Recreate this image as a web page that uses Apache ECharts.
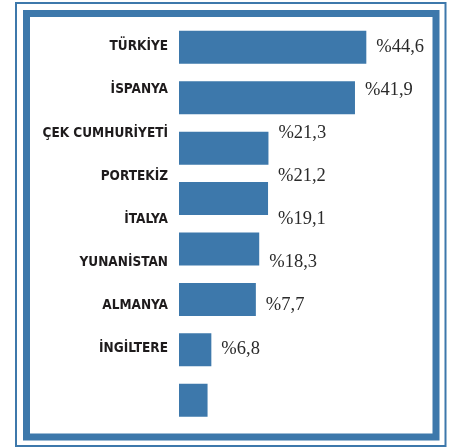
<!DOCTYPE html>
<html>
<head>
<meta charset="utf-8">
<script src="https://cdn.jsdelivr.net/npm/echarts@6/dist/echarts.min.js"></script>
<style>
  html, body { margin: 0; padding: 0; background: #fff; }
  #chart { width: 450px; height: 448px; }
</style>
</head>
<body>
<div id="chart"></div>
<script>
// ülkeler ve oranlar (%)
const countries = ['TÜRKİYE', 'İSPANYA', 'ÇEK CUMHURİYETİ', 'PORTEKİZ', 'İTALYA', 'YUNANİSTAN', 'ALMANYA', 'İNGİLTERE'];
const shares = [44.6, 41.9, 21.3, 21.2, 19.1, 18.3, 7.7, 6.8];
// etiket satırının yanında duran çubuk (orijinal grafikte etiketler çubuklarla hizalı değil)
const besideBar = [0, 1, 2, 3, 3, 4, 5, 6];

const blue = '#3d78ab';
const xMax = 60;

const chart = echarts.init(document.getElementById('chart'));

// yüzde etiketi: %44,6
function pct(v) {
  return '%' + v.toFixed(1).replace('.', ',');
}

const option = {
  animation: false,
  graphic: [
    // dış ince çerçeve
    { type: 'rect', shape: { x: 16, y: 3, width: 429.5, height: 443 },
      style: { fill: 'none', stroke: blue, lineWidth: 2 } },
    // kalın çerçeve
    { type: 'rect', shape: { x: 26.5, y: 13.5, width: 409.5, height: 423.5 },
      style: { fill: 'none', stroke: blue, lineWidth: 7 } }
  ],
  grid: [
    // çubuklar
    { left: 179, top: 22.1, width: 252, height: 403.4 },
    // ülke adları ve yüzdeler
    { left: 179, top: 25.2, width: 252, height: 345.1 }
  ],
  xAxis: [
    { gridIndex: 0, type: 'value', min: 0, max: xMax, show: false },
    { gridIndex: 1, type: 'value', min: 0, max: xMax, show: false }
  ],
  yAxis: [
    { gridIndex: 0, type: 'category', inverse: true, data: countries, show: false },
    {
      gridIndex: 1, type: 'category', inverse: true, data: countries,
      axisLine: { show: false }, axisTick: { show: false }, splitLine: { show: false },
      axisLabel: {
        margin: 11,
        color: '#1e1b1c',
        fontFamily: '"Liberation Sans Narrow", "DejaVu Sans Condensed", sans-serif',
        fontWeight: 'bold',
        fontSize: 13.5
      }
    }
  ],
  series: [
    {
      type: 'bar',
      xAxisIndex: 0, yAxisIndex: 0,
      data: shares,
      barWidth: 33,
      itemStyle: { color: blue },
      silent: true
    },
    {
      // görünmez çubuklar yalnızca yüzde etiketlerini taşır
      type: 'bar',
      xAxisIndex: 1, yAxisIndex: 1,
      data: besideBar.map(function (k, i) {
        return { value: shares[k], pct: shares[i] };
      }),
      barWidth: 20,
      itemStyle: { color: 'rgba(0,0,0,0)' },
      label: {
        show: true,
        position: 'right',
        distance: 10,
        color: '#2a2a2a',
        fontFamily: '"Liberation Serif", "DejaVu Serif", serif',
        fontSize: 18.5,
        formatter: function (p) { return pct(p.data.pct); }
      },
      silent: true
    }
  ]
};

chart.setOption(option);
</script>
</body>
</html>
